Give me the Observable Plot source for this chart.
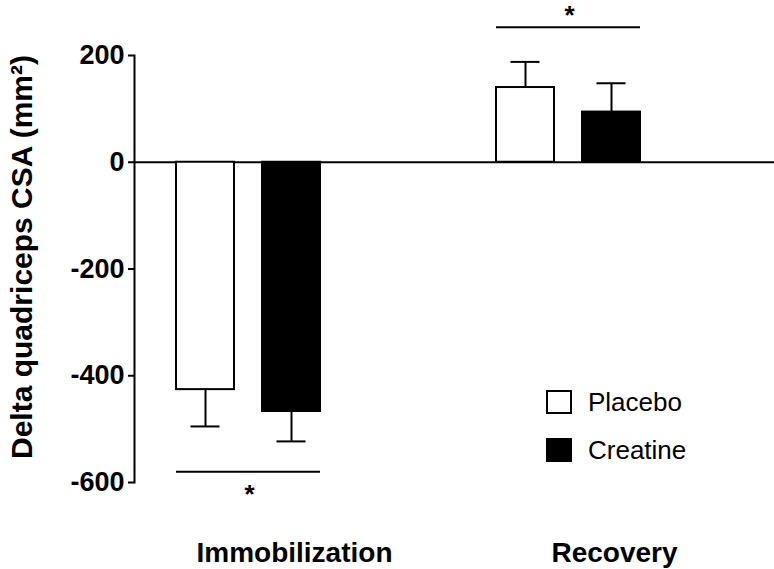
<!DOCTYPE html>
<html><head><meta charset="utf-8">
<script src="https://cdn.jsdelivr.net/npm/d3@7"></script>
<script src="https://cdn.jsdelivr.net/npm/@observablehq/plot@0.6"></script>
<style>
body{margin:0;background:#fff;font-family:"Liberation Sans",Arial,sans-serif;}
#chart{position:relative;width:774px;height:569px;}
#chart svg{position:absolute;left:0;top:0;}
.legend{position:absolute;left:546px;top:389px;font-size:26px;color:#000;}
.legend .row{display:flex;align-items:center;height:26px;margin-bottom:22px;}
.legend .sw{width:22px;height:20px;border:2px solid #000;margin-right:16px;box-sizing:content-box;}
</style></head><body><div id="chart"></div>
<script>
const groups = ["Immobilization", "Recovery"];
const treatments = ["Placebo", "Creatine"];
const placeboMean = [-426, 140];
const placeboSem = [69, 48];
const creatineMean = [-467, 94];
const creatineSem = [56, 54];
const yTicks = [-600, -400, -200, 0, 200];
const sigLineY = [-580, 253];
const sigStarY = [-622, 274];
const yLabel = "Delta quadriceps CSA (mm²)";
const swatchColors = ["white", "black"];

const rows = groups.flatMap((g, i) => [
  {group: g, treatment: treatments[0], mean: placeboMean[i], sem: placeboSem[i]},
  {group: g, treatment: treatments[1], mean: creatineMean[i], sem: creatineSem[i]}
]).map(d => ({...d, cap: d.mean + Math.sign(d.mean) * d.sem}));
const sig = groups.map((g, i) => ({group: g, y: sigLineY[i], star: sigStarY[i]}));

const chart = Plot.plot({
  width: 774, height: 569,
  marginLeft: 133, marginRight: 0, marginTop: 55, marginBottom: 87,
  style: {fontFamily: "'Liberation Sans', Arial, sans-serif", color: "black", background: "white"},
  fx: {domain: groups, padding: 0, axis: null},
  x: {domain: treatments, paddingInner: 0.32, paddingOuter: 1.007, align: 0.24, axis: null},
  y: {domain: [-600, 200], axis: null},
  color: {domain: treatments, range: swatchColors},
  marks: [
    Plot.ruleY([0], {strokeWidth: 2}),
    Plot.frame({anchor: "left", fx: groups[0], strokeWidth: 2}),
    Plot.ruleX(rows, {fx: "group", x: "treatment", y1: "mean", y2: "cap", strokeWidth: 2}),
    Plot.tickY(rows, {fx: "group", x: "treatment", y: "cap", strokeWidth: 2, insetLeft: 14.5, insetRight: 14.5}),
    Plot.barY(rows, {fx: "group", x: "treatment", y: "mean", fill: "treatment", stroke: "black", strokeWidth: 2}),
    Plot.ruleY(sig, {fx: "group", y: "y", x1: () => treatments[0], x2: () => treatments[1], strokeWidth: 2}),
    Plot.text(sig, {fx: "group", x: () => treatments[0], y: "star", text: () => "*", dx: 44, fontSize: 26, fontWeight: "bold"}),
    Plot.axisY(yTicks, {anchor: "left", tickSize: 6, tickPadding: 4, strokeWidth: 2, fontSize: 27, fontWeight: "bold", tickFormat: d => String(d), label: null}),
    Plot.axisFx({anchor: "bottom", tickSize: 0, tickPadding: 60, fontSize: 28, fontWeight: "bold", label: null}),
    Plot.text([yLabel], {fx: () => groups[0], frameAnchor: "left", textAnchor: "middle", text: d => d, rotate: -90, dx: -112, dy: -12, fontSize: 30, fontWeight: "bold"})
  ]
});
const root = document.getElementById("chart");
root.appendChild(chart);
const legend = document.createElement("div");
legend.className = "legend";
treatments.forEach((t, i) => {
  const row = document.createElement("div");
  row.className = "row";
  const sw = document.createElement("span");
  sw.className = "sw";
  sw.style.background = swatchColors[i];
  const lab = document.createElement("span");
  lab.textContent = t;
  row.appendChild(sw); row.appendChild(lab);
  legend.appendChild(row);
});
root.appendChild(legend);
</script></body></html>
